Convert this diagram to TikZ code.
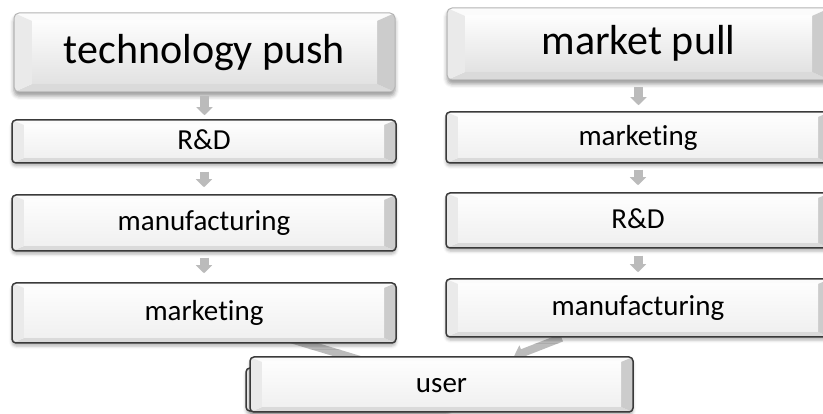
\documentclass[tikz,border=0pt]{standalone}
\usepackage{fontspec}
\setmainfont{Carlito}[Ligatures=NoCommon]
\usetikzlibrary{arrows.meta,calc,shadows.blur,backgrounds}
\definecolor{bordark}{HTML}{3A3A3A}
\definecolor{borlight}{HTML}{B4B4B4}
\definecolor{bevT}{HTML}{FBFBFB}
\definecolor{bevB}{HTML}{DADADA}
\definecolor{bevL}{HTML}{EAEAEA}
\definecolor{bevR}{HTML}{CCCCCC}
\definecolor{faceTop}{HTML}{FDFDFD}
\definecolor{faceBot}{HTML}{F0F0F0}
\definecolor{tfaceBot}{HTML}{E2E2E2}
\definecolor{arrowgray}{HTML}{BBBBBB}
\tikzset{
  bevel/.style n args={3}{path picture={
    \coordinate (bNW) at (path picture bounding box.north west);
    \coordinate (bNE) at (path picture bounding box.north east);
    \coordinate (bSE) at (path picture bounding box.south east);
    \coordinate (bSW) at (path picture bounding box.south west);
    \coordinate (iNW) at ($(bNW)+(#1pt,-#2pt)$);
    \coordinate (iNE) at ($(bNE)+(-#1pt,-#2pt)$);
    \coordinate (iSE) at ($(bSE)+(-#1pt,#2pt)$);
    \coordinate (iSW) at ($(bSW)+(#1pt,#2pt)$);
    \fill[bevT,sharp corners] (bNW) -- (bNE) -- (iNE) -- (iNW) -- cycle;
    \fill[bevB,sharp corners] (bSW) -- (bSE) -- (iSE) -- (iSW) -- cycle;
    \fill[bevL,sharp corners] (bNW) -- (iNW) -- (iSW) -- (bSW) -- cycle;
    \fill[bevR,sharp corners] (bNE) -- (iNE) -- (iSE) -- (bSE) -- cycle;
    \shade[sharp corners,top color=faceTop,bottom color=#3] (iNW) rectangle (iSE);
  }},
  procbox/.style={draw=bordark, line width=1.5pt, rounded corners=4pt, fill=white,
    minimum width=384pt, inner sep=0pt, font=\fontsize{29}{34}\selectfont,
    text height=22pt, text depth=6pt,
    blur shadow={shadow xshift=0pt, shadow yshift=-3pt, shadow blur radius=3pt, shadow opacity=30},
    bevel={12}{5}{faceBot}},
  titlebox/.style={draw=borlight, line width=1pt, rounded corners=5pt, fill=white,
    inner sep=0pt, font=\fontsize{42}{48}\selectfont,
    text height=30pt, text depth=8.5pt,
    blur shadow={shadow xshift=0pt, shadow yshift=-4pt, shadow blur radius=4pt, shadow opacity=40},
    bevel={18}{8}{tfaceBot}},
  downarr/.style={line width=9pt, draw=arrowgray, -{Triangle[width=16pt,length=8pt]}},
  diagarr/.style={line width=8pt, draw=arrowgray, -{Triangle[width=16pt,length=9pt]}}
}
\begin{document}
\begin{tikzpicture}[x=1pt,y=-1pt]
\useasboundingbox (0,0) rectangle (823,414);
\node[titlebox, minimum width=381pt, minimum height=79pt] (tp) at (204.5,52.5) {technology push};
\node[titlebox, minimum width=383pt, minimum height=72pt] (mp) at (638.5,44) {market pull};
\node[procbox, minimum height=43pt] (rd1) at (204,141.5) {R\&D};
\node[procbox, minimum height=56pt] (mf1) at (204,223) {manufacturing};
\node[procbox, minimum height=60pt] (mk1) at (204,313) {marketing};
\node[procbox, minimum height=51pt] (mk2) at (638,137.5) {marketing};
\node[procbox, minimum height=55pt] (rd2) at (638,220.5) {R\&D};
\node[procbox, minimum height=58pt] (mf2) at (638,308) {manufacturing};
\node[procbox, minimum width=204pt, minimum height=43pt] (ub) at (348,389.5) {};
\node[procbox, minimum width=383pt, minimum height=55pt] (user) at (441.5,384.5) {user};
\draw[downarr, shorten <=4pt, shorten >=4pt] (tp.south) -- (tp.south |- rd1.north);
\draw[downarr, shorten <=8pt, shorten >=7pt] (rd1.south) -- (mf1.north);
\draw[downarr, shorten <=6pt, shorten >=9pt] (mf1.south) -- (mk1.north);
\draw[downarr, shorten <=7pt, shorten >=6pt] (mp.south) -- (mp.south |- mk2.north);
\draw[downarr, shorten <=6pt, shorten >=7pt] (mk2.south) -- (rd2.north);
\draw[downarr, shorten <=7pt, shorten >=6pt] (rd2.south) -- (mf2.north);
\begin{scope}[on background layer]
\draw[diagarr] (mk1.center) -- (user.center);
\draw[diagarr] (mf2) -- (user);
\end{scope}
\end{tikzpicture}
\end{document}
